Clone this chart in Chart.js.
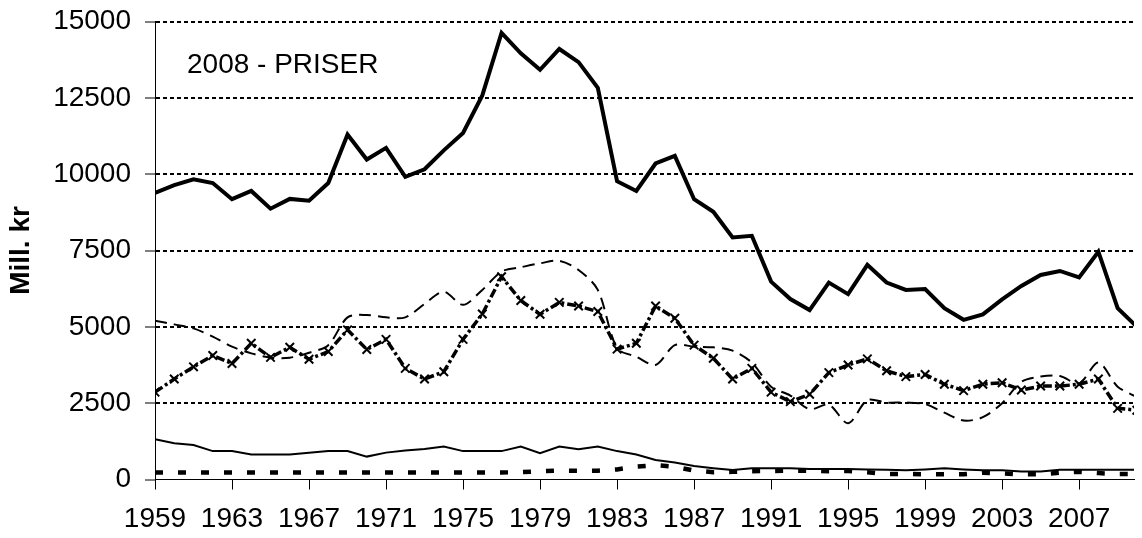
<!DOCTYPE html>
<html lang="no">
<head>
    <meta charset="UTF-8">
    <title>Mill. kr - 2008-priser</title>
    <script src="https://cdn.jsdelivr.net/npm/chart.js@4.4.1/dist/chart.umd.min.js"></script>
    <style>
        html, body {
            margin: 0;
            padding: 0;
            background: #fff;
            overflow: hidden;
        }
        canvas {
            display: block;
        }
    </style>
</head>
<body>
    <canvas id="chart" width="1142" height="538"></canvas>

    <script>
        const years = [1959, 1960, 1961, 1962, 1963, 1964, 1965, 1966, 1967, 1968,
            1969, 1970, 1971, 1972, 1973, 1974, 1975, 1976, 1977, 1978,
            1979, 1980, 1981, 1982, 1983, 1984, 1985, 1986, 1987, 1988,
            1989, 1990, 1991, 1992, 1993, 1994, 1995, 1996, 1997, 1998,
            1999, 2000, 2001, 2002, 2003, 2004, 2005, 2006, 2007, 2008,
            2009, 2010];
        const xTickYears = [1959, 1963, 1967, 1971, 1975, 1979, 1983, 1987, 1991, 1995, 1999, 2003, 2007];
        const yTicks = [0, 2500, 5000, 7500, 10000, 12500, 15000];

        // thick solid line
        const total = [9390, 9640, 9830, 9710, 9180, 9450, 8870, 9190, 9130, 9710,
            11300, 10480, 10860, 9910, 10160, 10780, 11350, 12580, 14630, 13960,
            13420, 14100, 13670, 12830, 9770, 9450, 10350, 10600, 9180, 8770,
            7930, 7980, 6480, 5910, 5550, 6450, 6070, 7030, 6450, 6210,
            6240, 5610, 5230, 5410, 5900, 6340, 6700, 6830, 6620, 7460,
            5610, 5000];
        // thin long dashes
        const dashed = [5200, 5080, 4950, 4680, 4350, 4130, 3990, 3990, 4150, 4400,
            5310, 5390, 5310, 5310, 5750, 6150, 5720, 6210, 6810, 6950,
            7080, 7160, 6860, 6210, 4300, 4020, 3750, 4400, 4350, 4330,
            4220, 3830, 3040, 2750, 2300, 2450, 1840, 2600, 2520, 2520,
            2470, 2190, 1930, 2040, 2500, 3200, 3370, 3390, 3150, 3830,
            3040, 2700];
        // dash-dot with x markers
        const crossed = [2860, 3290, 3690, 4060, 3800, 4460, 4000, 4330, 3940, 4190,
            4900, 4260, 4590, 3640, 3290, 3530, 4590, 5420, 6640, 5860,
            5410, 5800, 5680, 5500, 4270, 4460, 5680, 5280, 4400, 3970,
            3290, 3640, 2860, 2550, 2790, 3500, 3750, 3950, 3560, 3370,
            3440, 3120, 2910, 3120, 3170, 2930, 3060, 3060, 3120, 3290,
            2330, 2270];
        // thin solid line
        const thin = [1320, 1190, 1130, 930, 930, 820, 820, 820, 880, 930,
            930, 750, 880, 950, 1000, 1080, 930, 930, 930, 1080,
            860, 1080, 990, 1080, 930, 820, 640, 560, 440, 370,
            310, 370, 370, 370, 340, 340, 340, 330, 320, 300,
            330, 370, 330, 300, 300, 260, 260, 320, 320, 320,
            320, 320];
        // thick dotted line
        const dotted = [230, 230, 230, 230, 230, 230, 230, 230, 230, 230,
            230, 230, 230, 230, 230, 230, 230, 230, 230, 240,
            270, 290, 290, 290, 330, 420, 470, 420, 290, 240,
            250, 270, 280, 290, 290, 270, 280, 240, 180, 180,
            170, 170, 170, 220, 200, 170, 170, 220, 250, 210,
            180, 180];

        const FONT = "'Liberation Sans', Arial, sans-serif";

        // "2008 - PRISER" text inside the plot
        const noteText = {
            id: 'noteText',
            afterDraw(chart) {
                const { ctx, chartArea } = chart;
                ctx.save();
                ctx.font = `28px ${FONT}`;
                ctx.fillStyle = '#000';
                ctx.textBaseline = 'alphabetic';
                ctx.fillText('2008 - PRISER', chartArea.left + 32, chartArea.top + 51);
                ctx.restore();
            }
        };

        new Chart(document.getElementById('chart'), {
            type: 'line',
            data: {
                labels: years,
                datasets: [
                    {
                        label: 'total',
                        data: total,
                        borderColor: '#000',
                        borderWidth: 4,
                        pointRadius: 0,
                        tension: 0
                    },
                    {
                        label: 'dashed',
                        data: dashed,
                        borderColor: '#000',
                        borderWidth: 2,
                        borderDash: [12, 7],
                        pointRadius: 0,
                        tension: 0.3
                    },
                    {
                        label: 'crossed',
                        data: crossed,
                        borderColor: '#000',
                        borderWidth: 3.5,
                        borderDash: [9, 3, 3, 3],
                        pointStyle: 'crossRot',
                        pointRadius: 6,
                        pointBorderWidth: 2,
                        pointBorderColor: '#000',
                        tension: 0
                    },
                    {
                        label: 'thin',
                        data: thin,
                        borderColor: '#000',
                        borderWidth: 2,
                        pointRadius: 0,
                        tension: 0
                    },
                    {
                        label: 'dotted',
                        data: dotted,
                        borderColor: '#000',
                        borderWidth: 4.5,
                        borderDash: [8, 15],
                        borderCapStyle: 'butt',
                        pointRadius: 0,
                        tension: 0
                    }
                ]
            },
            options: {
                responsive: false,
                animation: false,
                devicePixelRatio: 1,
                layout: {
                    padding: 0
                },
                plugins: {
                    legend: { display: false },
                    tooltip: { enabled: false }
                },
                scales: {
                    x: {
                        type: 'linear',
                        min: 1959,
                        max: 2009.85,
                        afterBuildTicks: (scale) => {
                            scale.ticks = xTickYears.map(v => ({ value: v }));
                        },
                        afterFit: (scale) => { scale.height = 58.5; },
                        ticks: {
                            autoSkip: false,
                            maxRotation: 0,
                            padding: 13,
                            color: '#000',
                            font: { family: FONT, size: 28 },
                            callback: (v) => String(v)
                        },
                        grid: {
                            drawOnChartArea: false,
                            drawTicks: true,
                            tickLength: 10,
                            color: '#000',
                            lineWidth: 1
                        },
                        border: { color: '#000', width: 1 }
                    },
                    y: {
                        min: 0,
                        max: 15000,
                        afterBuildTicks: (scale) => {
                            scale.ticks = yTicks.map(v => ({ value: v }));
                        },
                        afterFit: (scale) => {
                            scale.width = 155;
                            scale.paddingTop = 21.5;
                            scale.paddingBottom = 0;
                        },
                        ticks: {
                            padding: 14,
                            color: '#000',
                            font: { family: FONT, size: 28 },
                            callback: (v) => String(v)
                        },
                        grid: {
                            color: (ctx) => (ctx.tick && ctx.tick.value === 0) ? 'rgba(0,0,0,0)' : '#000',
                            lineWidth: 2,
                            tickLength: 10,
                            tickWidth: 1,
                            tickColor: '#000'
                        },
                        border: { color: '#000', width: 1, dash: [4, 3] },
                        title: {
                            display: true,
                            text: 'Mill. kr',
                            color: '#000',
                            font: { family: FONT, size: 28, weight: 'bold' },
                            padding: { top: 4, bottom: 0 }
                        }
                    }
                }
            },
            plugins: [noteText]
        });
    </script>
</body>
</html>
